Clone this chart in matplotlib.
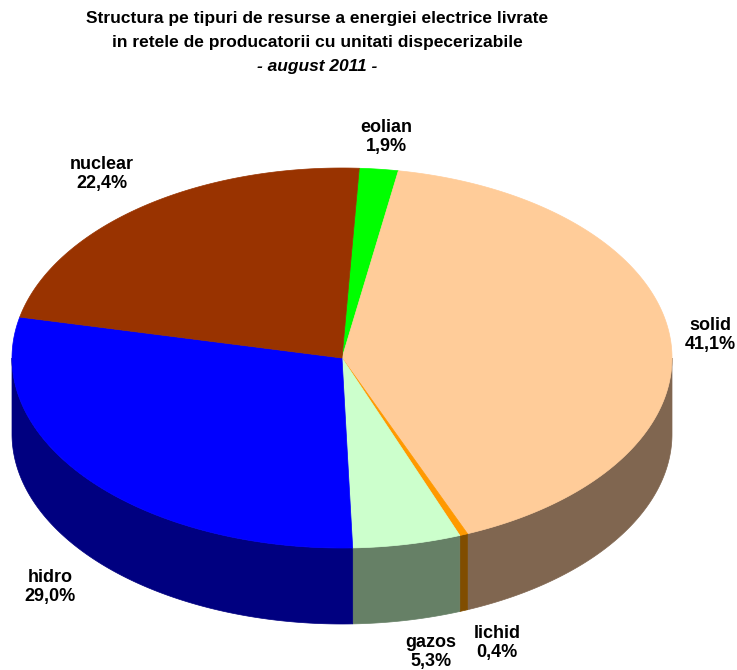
import numpy as np
import matplotlib.pyplot as plt
from matplotlib.patches import Polygon

# ---- data ----
labels = ['eolian', 'solid', 'lichid', 'gazos', 'hidro', 'nuclear']
values = [1.9, 41.1, 0.4, 5.3, 29.0, 22.4]
title_lines = ['Structura pe tipuri de resurse a energiei electrice livrate',
               'in retele de producatorii cu unitati dispecerizabile',
               '- august 2011 -']

# ---- style ----
top_colors = ['#00FF00', '#FFCC99', '#FF9900', '#CCFFCC', '#0000FF', '#993300']
side_colors = ['#008000', '#806650', '#804D00', '#668066', '#000080', '#4D1A00']
label_pos = [(386, 137), (710, 335), (497, 643), (431, 652), (50, 587), (102, 174)]

plt.rcParams['font.family'] = ['Liberation Sans', 'DejaVu Sans']

fig = plt.figure(figsize=(7.37, 6.70), dpi=100)
ax = fig.add_axes([0, 0, 1, 1])
ax.set_xlim(0, 737)
ax.set_ylim(670, 0)
ax.axis('off')

cx, cy, rx, ry, depth = 342, 358, 330, 190, 76
start = 87.0
total = sum(values)

def pt(t, dy=0.0):
    tr = np.radians(t)
    return cx + rx * np.cos(tr), cy - ry * np.sin(tr) + dy

angles = []
a = start
for v in values:
    a2 = a - 360.0 * v / total
    angles.append((a, a2))
    a = a2

# sides (front half only: angles between -180 and 0)
for (a1, a2), sc in zip(angles, side_colors):
    lo, hi = max(a2, -180.0), min(a1, 0.0)
    if hi <= lo:
        continue
    ts = np.linspace(lo, hi, 200)
    top = [pt(t) for t in ts]
    bot = [pt(t, depth) for t in ts[::-1]]
    ax.add_patch(Polygon(top + bot, closed=True, facecolor=sc, edgecolor=sc,
                         linewidth=0.5, zorder=1))

# tops
for (a1, a2), tc in zip(angles, top_colors):
    ts = np.linspace(a1, a2, 300)
    poly = [(cx, cy)] + [pt(t) for t in ts]
    ax.add_patch(Polygon(poly, closed=True, facecolor=tc, edgecolor=tc,
                         linewidth=0.5, zorder=2))

# labels
for lab, v, (x, y) in zip(labels, values, label_pos):
    txt = f"{lab}\n{v:.1f}%".replace('.', ',')
    ax.text(x, y, txt, ha='center', va='center', fontsize=13, fontweight='bold',
            linespacing=1.15, zorder=5)

# title
ax.text(317, 19, title_lines[0], ha='center', va='center', fontsize=12.5, fontweight='bold')
ax.text(317, 43, title_lines[1], ha='center', va='center', fontsize=12.5, fontweight='bold')
ax.text(317, 67, title_lines[2], ha='center', va='center', fontsize=12.5, fontweight='bold',
        style='italic')

fig.savefig('out.png', dpi=100)
